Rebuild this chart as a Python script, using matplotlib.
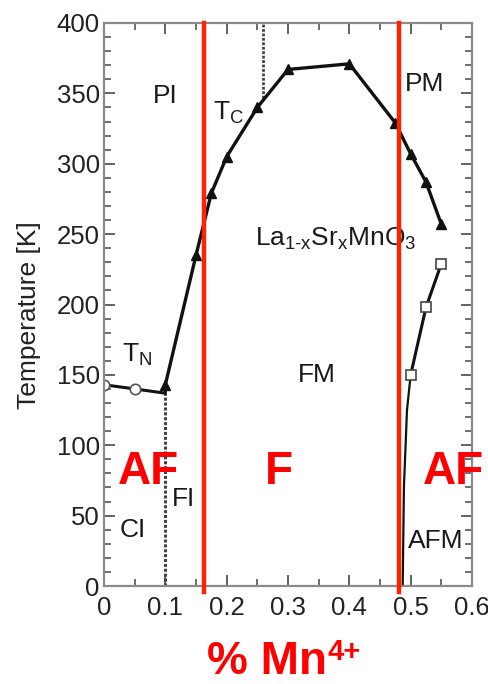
import matplotlib
matplotlib.use("Agg")
import matplotlib.pyplot as plt
from matplotlib.ticker import MultipleLocator, FixedLocator, FixedFormatter

plt.rcParams['font.family'] = ['Liberation Sans', 'DejaVu Sans']
plt.rcParams['mathtext.fontset'] = 'custom'
plt.rcParams['mathtext.rm'] = 'Liberation Sans'
plt.rcParams['mathtext.it'] = 'Liberation Sans'
plt.rcParams['mathtext.bf'] = 'Liberation Sans:bold'

# ---- data ----
tc_x = [0.1, 0.15, 0.175, 0.2, 0.25, 0.3, 0.4, 0.475, 0.5, 0.525, 0.55]
tc_T = [143, 235, 279, 305, 340, 367, 371, 329, 307, 287, 257]

tn_x = [0.0, 0.05]
tn_T = [143, 140]
tn_line_x = [0.0, 0.05, 0.1, 0.1]
tn_line_T = [143, 140, 137, 143]

afm_x = [0.5, 0.525, 0.55]
afm_T = [150, 198, 229]
afm_low_x = [0.5, 0.494, 0.489, 0.487]
afm_low_T = [150, 125, 70, 0]

fi_ci_x = [0.1, 0.1]
fi_ci_T = [0, 137]
pi_x = [0.26, 0.26]
pi_T = [347, 400]

red_x = [0.163, 0.481]

xticks = [0, 0.1, 0.2, 0.3, 0.4, 0.5, 0.6]
xticklabels = ['0', '0.1', '0.2', '0.3', '0.4', '0.5', '0.6']
yticks = [0, 50, 100, 150, 200, 250, 300, 350, 400]

fig = plt.figure(figsize=(4.89, 6.84), dpi=100)
ax = fig.add_axes([104/489, 98/684, 368/489, 563/684])
ax.set_xlim(0, 0.6)
ax.set_ylim(0, 400)

spine_c = '#8a8a8a'
for s in ax.spines.values():
    s.set_color(spine_c)
    s.set_linewidth(1.6)

ax.xaxis.set_major_locator(FixedLocator(xticks))
ax.xaxis.set_major_formatter(FixedFormatter(xticklabels))
ax.xaxis.set_minor_locator(MultipleLocator(0.05))
ax.yaxis.set_major_locator(FixedLocator(yticks))
ax.yaxis.set_minor_locator(MultipleLocator(10))
ax.tick_params(which='both', direction='in', top=True, right=True, color='#555555',
               labelcolor='#222222')
ax.tick_params(which='major', length=8, width=1.3, labelsize=18.5)
ax.tick_params(which='minor', length=5, width=1.2)
ax.tick_params(axis='x', which='major', pad=7)
ax.tick_params(axis='y', which='major', pad=3)

ax.set_ylabel('Temperature [K]', fontsize=19, color='#222222')
ax.yaxis.set_label_coords(-0.17, 0.481)

lc = '#111111'
ax.plot(fi_ci_x, fi_ci_T, color='#444444', lw=2.2, ls=(0, (1, 0.6)))
ax.plot(pi_x, pi_T, color='#444444', lw=2.0, ls=(0, (1, 0.6)))
ax.plot(tn_line_x, tn_line_T, color=lc, lw=2.2)
ax.plot(tn_x, tn_T, ls='none', marker='o', ms=7.5, mfc='white', mec='#555555', mew=1.2)
ax.plot(tc_x, tc_T, color=lc, lw=2.4, marker='^', ms=7, mfc=lc, mec=lc)
ax.plot(afm_low_x, afm_low_T, color=lc, lw=1.6)
ax.plot(afm_x, afm_T, color=lc, lw=2.2, marker='s', ms=7, mfc='white', mec='#444444', mew=1.2)

for xv in red_x:
    ax.axvline(xv, ymin=-0.01, ymax=1.0, color='#ff2200', lw=3.2, clip_on=False, zorder=5)

tk = dict(fontsize=19, color='#1a1a1a', va='baseline', ha='left')
ax.text(0.08, 343, 'PI', **tk)
ax.text(0.178, 331, r'$\mathrm{T_C}$', **tk)
ax.text(0.491, 352, 'PM', **tk)
ax.text(0.246, 242, r'$\mathrm{La_{1\text{-}x}Sr_xMnO_3}$', **tk)
ax.text(0.029, 159, r'$\mathrm{T_N}$', **tk)
ax.text(0.316, 145, 'FM', **tk)
ax.text(0.11, 57, 'FI', **tk)
ax.text(0.026, 35, 'CI', **tk)
ax.text(0.496, 27, 'AFM', **tk)

rk = dict(fontsize=33, color='#ff0000', fontweight='bold', va='baseline', ha='left',
          clip_on=False, zorder=6)
ax.text(0.023, 72.5, 'AF', **rk)
ax.text(0.2625, 72.5, 'F', **rk)
ax.text(0.52, 72.5, 'AF', **rk)

fig.text(207/489, 10/684, '% Mn', fontsize=33, color='#ff0000', fontweight='bold',
         va='baseline', ha='left')
fig.text(328/489, 24/684, '4+', fontsize=21, color='#ff0000', fontweight='bold',
         va='baseline', ha='left')

fig.savefig('out.png', dpi=100, facecolor='white')
